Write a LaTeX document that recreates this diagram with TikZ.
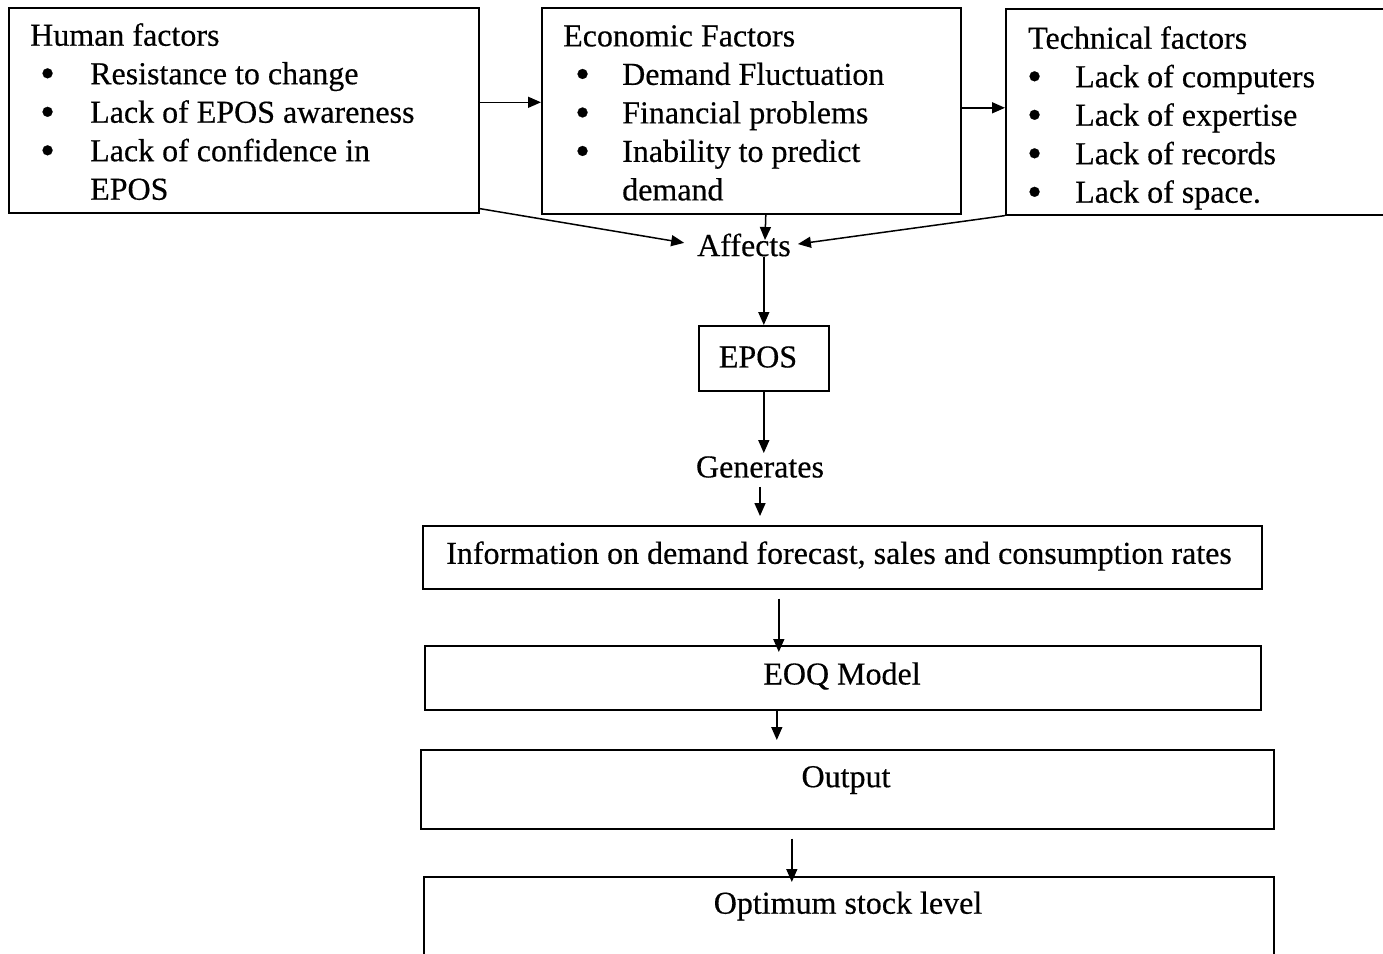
\documentclass[tikz,border=0pt]{standalone}
\usepackage{fontspec}
\setmainfont{Liberation Serif}[FakeBold=0.4]
\usetikzlibrary{arrows.meta}
\newcommand{\bulitem}[3]{\hspace*{#1}\makebox[#2][l]{\raisebox{-3pt}{\fontsize{42}{42}\selectfont\textbullet}}#3}
\begin{document}
\begin{tikzpicture}[x=1pt,y=-1pt,
  box/.style={draw, line width=1.6pt, inner sep=0pt, anchor=north west, rectangle},
  txt/.style={font=\fontsize{32}{38.5}\selectfont, inner sep=0pt},
  arr/.style={-{Triangle[length=13pt,width=11pt]}, line width=1.5pt}]
\useasboundingbox (0,0) rectangle (1383,953);
\fill[white] (0,0) rectangle (1383,953);

% top factor boxes
\node[box, minimum width=470pt, minimum height=205pt] (hum) at (8,7) {};
\node[box, minimum width=419pt, minimum height=206pt] (eco) at (541,7) {};
\node[box, minimum width=400pt, minimum height=206pt] (tech) at (1005,8) {};

\node[txt, anchor=north west, align=left] (humtxt) at (30,23)
  {Human factors\\
   \bulitem{10pt}{50pt}{Resistance to change}\\
   \bulitem{10pt}{50pt}{Lack of EPOS awareness}\\
   \bulitem{10pt}{50pt}{Lack of confidence in}\\
   \hspace*{60pt}EPOS};
\node[txt, anchor=north west, align=left] (ecotxt) at (563,25)
  {Economic Factors\\
   \bulitem{12pt}{47pt}{Demand Fluctuation}\\
   \bulitem{12pt}{47pt}{Financial problems}\\
   \bulitem{12pt}{47pt}{Inability to predict}\\
   \hspace*{59pt}demand};
\node[txt, anchor=north west, align=left] (techtxt) at (1028,26)
  {Technical factors\\
   \bulitem{-1pt}{48pt}{Lack of computers}\\
   \bulitem{-1pt}{48pt}{Lack of expertise}\\
   \bulitem{-1pt}{48pt}{Lack of records}\\
   \bulitem{-1pt}{48pt}{Lack of space.}};

% middle
\node[txt] (aff) at (744,245) {Affects};
\node[box, minimum width=130pt, minimum height=65pt] (epos) at (698,325) {};
\node[txt] (epostxt) at (758,357) {EPOS};
\node[txt] (gen) at (760,467) {Generates};

% bottom boxes
\node[box, minimum width=839pt, minimum height=63pt] (info) at (422,525) {};
\node[txt] (infotxt) at (839,556) {Information on demand forecast, sales and consumption rates};
\node[box, minimum width=836pt, minimum height=64pt] (eoq) at (424,645) {};
\node[txt] (eoqtxt) at (842,676) {EOQ Model};
\node[box, minimum width=853pt, minimum height=79pt] (out) at (420,749) {};
\node[txt] (outtxt) at (846,780) {Output};
\node[box, minimum width=850pt, minimum height=90pt] (opt) at (423,876) {};
\node[txt] (opttxt) at (848,906) {Optimum stock level};

% connectors
\draw[arr] ([yshift=8pt]hum.east) -- ([yshift=8pt]hum.east -| eco.west);
\draw[arr] ([yshift=3pt]eco.east) -- ([yshift=3pt]eco.east -| tech.west);
\draw[arr, shorten >=13pt] ([yshift=5pt]hum.south east) -- (aff.west);
\draw[arr, shorten >=7pt] (tech.south west) -- (aff.east);
\draw[arr] ([xshift=14.5pt]eco.south) -- ([xshift=21pt,yshift=5pt]aff.center);
\draw[arr] (aff.south -| epos.north) -- (epos.north);
\draw[arr, shorten >=3pt] (epos.south) -- (epos.south |- gen.north);
\draw[arr, shorten <=9pt, shorten >=9pt] (gen.south) -- (gen.south |- info.north);
\draw[arr, shorten <=9pt, shorten >=-7pt] ([xshift=-63.5pt]info.south) -- ([xshift=-63.5pt]info.south |- eoq.north);
\draw[arr, shorten >=9pt] ([xshift=-66pt]eoq.south) -- ([xshift=-66pt]eoq.south |- out.north);
\draw[arr, shorten <=9pt, shorten >=-6pt] ([xshift=-55.5pt]out.south) -- ([xshift=-55.5pt]out.south |- opt.north);
\end{tikzpicture}
\end{document}
